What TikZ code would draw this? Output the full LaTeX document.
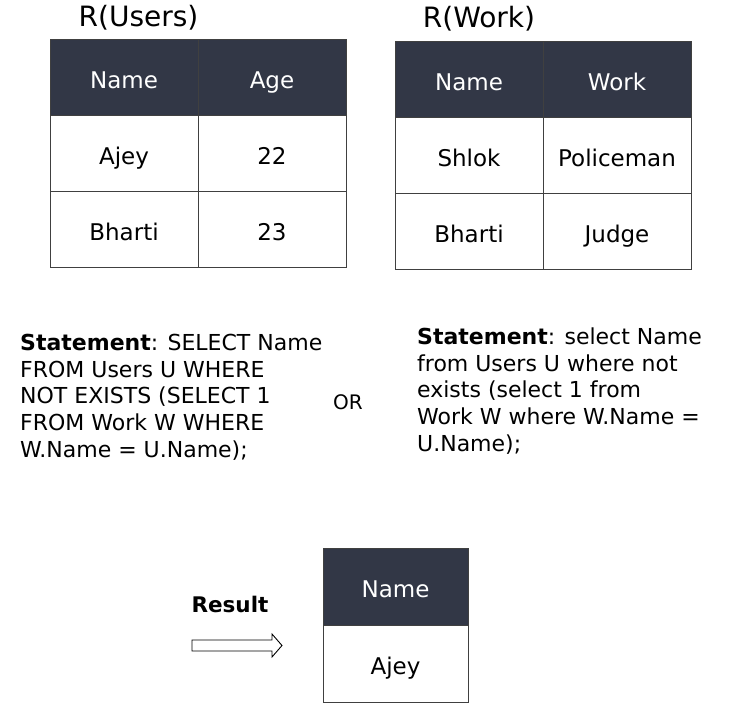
\documentclass[tikz,border=0pt]{standalone}
\usepackage{fontspec}
\setmainfont{DejaVu Sans}
\usepackage{xcolor}
\usepackage{tikz}
\usetikzlibrary{positioning}
\definecolor{headblue}{RGB}{50,55,70}

\tikzset{
  cell/.style={draw=black!75, line width=0.8pt, minimum width=148pt, minimum height=76pt,
    inner sep=0pt, outer sep=0pt, text height=28pt, text depth=6pt,
    font=\fontsize{23}{26}\selectfont},
  headcell/.style={cell, fill=headblue, text=white},
  stmt/.style={align=left, inner sep=0pt, anchor=north west, font=\fontsize{22}{26.7}\selectfont},
  title/.style={font=\fontsize{28}{30}\selectfont, inner sep=0pt}
}

\begin{document}
\begin{tikzpicture}[x=1pt, y=-1pt]
        \useasboundingbox (0,0) rectangle (737,720);
        % R(Users)
        \node[title] (usersT) at (138.5,18.2) {R(Users)};
        \node[headcell] (u11) at (124,77) {Name};
        \node[headcell, right=0pt of u11] (u12) {Age};
        \node[cell, below=0pt of u11] (u21) {Ajey};
        \node[cell, right=0pt of u21] (u22) {22};
        \node[cell, below=0pt of u21] (u31) {Bharti};
        \node[cell, right=0pt of u31] (u32) {23};
        % R(Work)
        \node[title] (workT) at (479,19) {R(Work)};
        \node[headcell] (w11) at (469,79) {Name};
        \node[headcell, right=0pt of w11] (w12) {Work};
        \node[cell, below=0pt of w11] (w21) {Shlok};
        \node[cell, right=0pt of w21] (w22) {Policeman};
        \node[cell, below=0pt of w21] (w31) {Bharti};
        \node[cell, right=0pt of w31] (w32) {Judge};
        % statements
        \node[stmt] (stmtU) at (20,334) {\textbf{Statement}: SELECT Name\\FROM Users U WHERE\\NOT EXISTS (SELECT 1\\FROM Work W WHERE\\W.Name = U.Name);};
        \node[font=\fontsize{20}{22}\selectfont, inner sep=0pt] (orT) at (348,402.5) {OR};
        \node[stmt] (stmtL) at (417,327.5) {\textbf{Statement}: select Name\\from Users U where not\\exists (select 1 from\\Work W where W.Name =\\U.Name);};
        % result
        \node[font=\bfseries\fontsize{21.5}{24}\selectfont, inner sep=0pt] (resT) at (230,604.5) {Result};
        \coordinate (arrowtail) at (192,645.5);
        \draw[line width=0.9pt] (arrowtail) ++(0,-5.5) -- ++(80,0) -- ++(0,-6) -- ++(10,11.5)
          -- ++(-10,11.5) -- ++(0,-6) -- ++(-80,0) -- cycle;
        \node[headcell, minimum width=145pt, minimum height=77pt] (r11) at (395.5,586.5) {Name};
        \node[cell, minimum width=145pt, minimum height=77pt, below=0pt of r11] (r21) {Ajey};
    \end{tikzpicture}
\end{document}
